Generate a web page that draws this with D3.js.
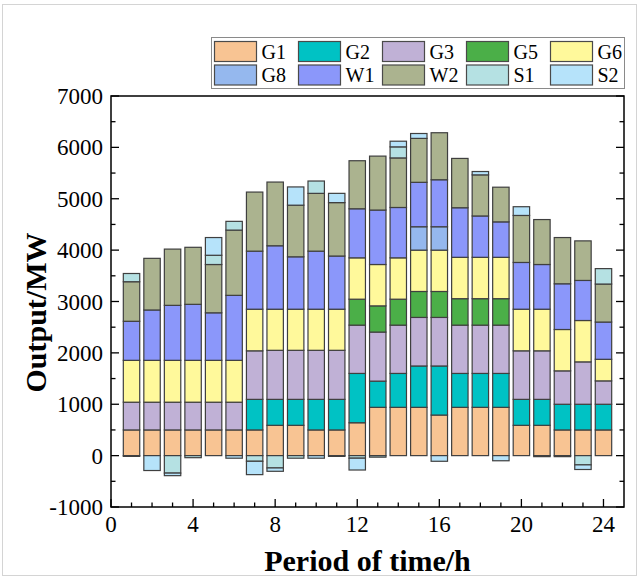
<!DOCTYPE html>
<html>
<head>
<meta charset="utf-8">
<script src="https://cdn.jsdelivr.net/npm/d3@7"></script>
<style>
  html, body { margin: 0; padding: 0; background: #fff; }
  svg { display: block; font-family: "Liberation Serif", "Times New Roman", serif; }
</style>
</head>
<body>
<div id="chart"></div>
<script>
// data (MW per hour)
const hours = d3.range(1, 25);
const seriesNames = ["G1", "G2", "G3", "G5", "G6", "G8", "W1", "W2", "S1", "S2"];
const seriesColors = ["#f8c493", "#00c2c4", "#c0b1d6", "#4baf48", "#fff99b", "#95b8ee", "#8b97fa", "#abb38f", "#b5e1e3", "#b6e3fa"];

const G1 = [500, 500, 500, 500, 500, 500, 500, 590, 590, 500, 500, 640, 940, 940, 940, 790, 940, 940, 940, 590, 590, 500, 500, 500];
const G2 = [0, 0, 0, 0, 0, 0, 595, 505, 505, 595, 595, 960, 510, 660, 805, 955, 660, 660, 660, 505, 505, 500, 500, 500];
const G3 = [540, 540, 540, 540, 540, 540, 945, 955, 955, 955, 955, 940, 955, 940, 945, 945, 940, 940, 940, 945, 945, 650, 825, 455];
const G5 = [0, 0, 0, 0, 0, 0, 0, 0, 0, 0, 0, 505, 510, 505, 505, 505, 515, 515, 515, 0, 0, 0, 0, 0];
const G6 = [815, 815, 815, 815, 815, 815, 810, 800, 800, 800, 800, 805, 805, 805, 805, 805, 805, 805, 805, 810, 810, 805, 805, 420];
const G8 = [0, 0, 0, 0, 0, 0, 0, 0, 0, 0, 0, 0, 0, 0, 455, 455, 0, 0, 0, 0, 0, 0, 0, 0];
const W1 = [760, 980, 1070, 1090, 925, 1265, 1130, 1235, 1020, 1130, 1035, 955, 1060, 980, 865, 915, 965, 805, 690, 910, 870, 890, 780, 725];
const W2 = [770, 1005, 1095, 1110, 940, 1270, 1150, 1240, 1005, 1125, 1040, 935, 1050, 965, 855, 915, 960, 800, 675, 915, 875, 900, 770, 740];
const S1 = [160, 0, -340, -40, 180, 170, -110, -240, -50, 240, -15, -50, -30, 215, 0, 0, 0, 0, 0, 0, -20, -20, -180, 300];
const S2 = [-15, -290, -50, 0, 345, -50, -260, -65, 355, -50, 180, -230, 0, 110, 95, -110, 0, 65, -100, 170, 0, 0, -90, 0];

const yTicks = d3.range(-1000, 7001, 1000);
const xTicks = d3.range(0, 25, 4);

const allSeries = [G1, G2, G3, G5, G6, G8, W1, W2, S1, S2];
const table = hours.map((h, i) => {
  const row = { hour: h };
  seriesNames.forEach((n, k) => row[n] = allSeries[k][i]);
  return row;
});

// canvas
const width = 639;
const height = 578;
const margin = { top: 96, right: 15, bottom: 71, left: 111 };

const svg = d3.select("#chart")
  .append("svg")
  .attr("width", width)
  .attr("height", height);

// thin outer border of the picture
svg.append("rect")
  .attr("x", 2.5).attr("y", 4.5)
  .attr("width", width - 5).attr("height", height - 7)
  .attr("fill", "none")
  .attr("stroke", "#d4d4d4");

const x = d3.scaleLinear()
  .domain([0, 25])
  .range([margin.left, width - margin.right]);

const y = d3.scaleLinear()
  .domain([-1000, 7000])
  .range([height - margin.bottom, margin.top]);

const stack = d3.stack()
  .keys(seriesNames)
  .offset(d3.stackOffsetDiverging);
const stacked = stack(table);

const barW = x(0.8) - x(0);

const layers = svg.append("g")
  .selectAll("g")
  .data(stacked)
  .join("g")
  .attr("fill", (d, i) => seriesColors[i]);

layers.selectAll("rect")
  .data(d => d.filter(s => s[1] !== s[0]))
  .join("rect")
  .attr("x", d => x(d.data.hour) - barW / 2)
  .attr("y", d => y(Math.max(d[0], d[1])))
  .attr("width", barW)
  .attr("height", d => Math.abs(y(d[0]) - y(d[1])))
  .attr("stroke", "#3f3f3f")
  .attr("stroke-width", 1.2);

// axes, ticks inside
const plotBottom = y(-1000), plotTop = y(7000), plotLeft = x(0), plotRight = x(25);

const axisG = svg.append("g").attr("stroke", "#000").attr("stroke-width", 1.3);

// left + right ticks
const yMinor = d3.range(-1000, 7001, 500);
yMinor.forEach(v => {
  const len = v % 1000 === 0 ? 8 : 4.5;
  axisG.append("line").attr("x1", plotLeft).attr("x2", plotLeft + len).attr("y1", y(v)).attr("y2", y(v));
  axisG.append("line").attr("x1", plotRight).attr("x2", plotRight - len).attr("y1", y(v)).attr("y2", y(v));
});

// bottom ticks
d3.range(0, 25, 1).forEach(v => {
  const len = v % 4 === 0 ? 8 : 4.5;
  axisG.append("line").attr("x1", x(v)).attr("x2", x(v)).attr("y1", plotBottom).attr("y2", plotBottom - len);
});

// frame
svg.append("rect")
  .attr("x", plotLeft).attr("y", plotTop)
  .attr("width", plotRight - plotLeft).attr("height", plotBottom - plotTop)
  .attr("fill", "none")
  .attr("stroke", "#000")
  .attr("stroke-width", 1.5);

// tick labels
svg.append("g")
  .selectAll("text")
  .data(yTicks)
  .join("text")
  .attr("x", plotLeft - 8)
  .attr("y", d => y(d))
  .attr("dy", "0.35em")
  .attr("text-anchor", "end")
  .attr("font-size", 23)
  .text(d => d);

svg.append("g")
  .selectAll("text")
  .data(xTicks)
  .join("text")
  .attr("x", d => x(d))
  .attr("y", plotBottom + 25)
  .attr("text-anchor", "middle")
  .attr("font-size", 23)
  .text(d => d);

// axis titles
svg.append("text")
  .attr("x", (plotLeft + plotRight) / 2)
  .attr("y", 571)
  .attr("text-anchor", "middle")
  .attr("font-size", 30)
  .attr("font-weight", "bold")
  .text("Period of time/h");

svg.append("text")
  .attr("transform", `translate(46,${(plotTop + plotBottom) / 2 + 11}) rotate(-90)`)
  .attr("text-anchor", "middle")
  .attr("font-size", 30)
  .attr("font-weight", "bold")
  .text("Output/MW");

// legend, 2 rows x 5 columns
const legend = svg.append("g");
legend.append("rect")
  .attr("x", 211.5).attr("y", 37.5)
  .attr("width", 413).attr("height", 51)
  .attr("fill", "#fff")
  .attr("stroke", "#8a8a8a")
  .attr("stroke-width", 1);

const item = legend.selectAll("g.item")
  .data(seriesNames)
  .join("g")
  .attr("class", "item")
  .attr("transform", (d, i) => `translate(${214.5 + (i % 5) * 84},${41.5 + Math.floor(i / 5) * 23.5})`);

item.append("rect")
  .attr("width", 42)
  .attr("height", 20)
  .attr("fill", (d, i) => seriesColors[i])
  .attr("stroke", "#4a4a4a")
  .attr("stroke-width", 1.2);

item.append("text")
  .attr("x", 47)
  .attr("y", 17)
  .attr("font-size", 20)
  .text(d => d);
</script>
</body>
</html>
